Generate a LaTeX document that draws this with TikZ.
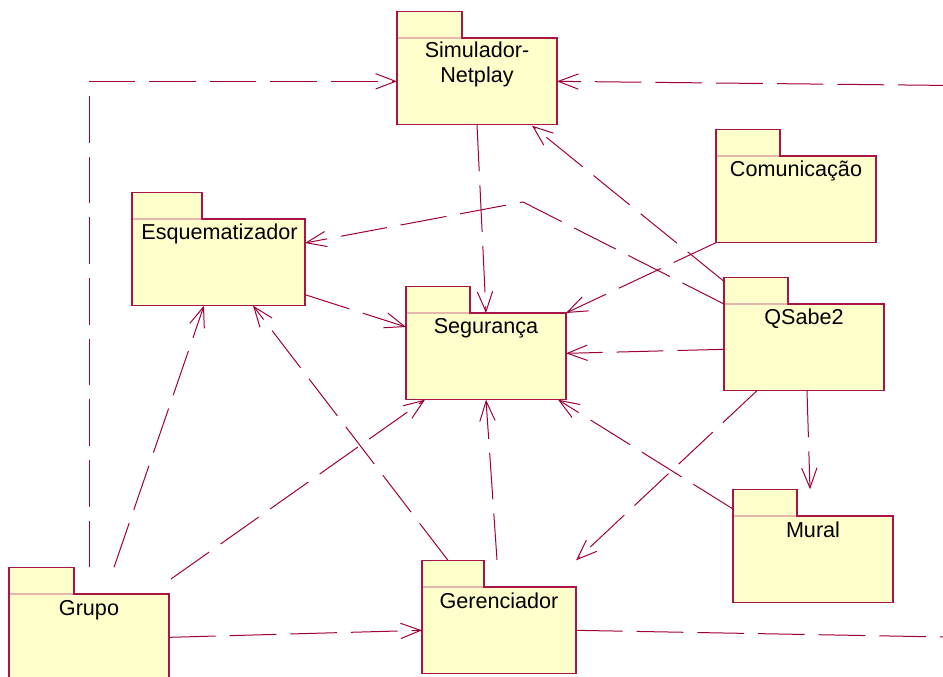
\documentclass[tikz,border=0pt]{standalone}
\usepackage{fontspec}
\setmainfont{Liberation Sans}
\usepackage{tikz}
\usetikzlibrary{arrows.meta}
\usetikzlibrary{calc}
\definecolor{pkgfill}{RGB}{255,255,204}
\definecolor{pkgedge}{RGB}{170,20,70}
\definecolor{tabedge}{RGB}{228,182,172}
\definecolor{deplink}{RGB}{160,0,55}
\tikzset{pkg/.style = {draw = pkgedge, fill = pkgfill, line width = 0.9pt, inner sep = 0, outer sep = 0, anchor = north west, minimum width = 120pt, minimum height = 65pt}}
\tikzset{pkgtab/.style = {draw = pkgedge, fill = pkgfill, line width = 0.9pt, inner sep = 0, outer sep = 0, anchor = south west, minimum width = 48pt, minimum height = 20pt}}
\tikzset{tabline/.style = {draw = tabedge, line width = 0.9pt, shorten <= 0.6pt, shorten >= 0.6pt}}
\tikzset{pkgtext/.style = {anchor = base, inner sep = 0, align = center, font = \fontsize{16.2}{18.75}\selectfont}}
\tikzset{dep/.style = {draw = deplink, line width = 0.75pt, dash pattern = on 35pt off 10.5pt, -{Straight Barb[length = 15pt, width = 11.5pt]}}}

\begin{document}
\begin{tikzpicture}[x = 0.75pt, y = -0.75pt]
            \useasboundingbox (0,0) rectangle (943,677);
            \clip (0,0) rectangle (943,677);

            \node [pkg] (sim) at (397,38) {};
            \node [pkgtab, minimum width = 48.75pt] (sim-tab) at (sim.north west) {};
            \draw [tabline] (sim-tab.south west) -- (sim-tab.south east);
            \node [pkgtext] (sim-text) at ($(sim.north)+(0,45)$) {Simulador-\\Netplay};

            \node [pkg, minimum width = 129.75pt] (esq) at (132,219) {};
            \node [pkgtab, minimum width = 52.5pt] (esq-tab) at (esq.north west) {};
            \draw [tabline] (esq-tab.south west) -- (esq-tab.south east);
            \node [pkgtext] (esq-text) at ($(esq.north)+(1,21)$) {Esquematizador};

            \node [pkg] (gru) at (9,594) {};
            \node [pkgtab, minimum width = 48.75pt] (gru-tab) at (gru.north west) {};
            \draw [tabline] (gru-tab.south west) -- (gru-tab.south east);
            \node [pkgtext] (gru-text) at ($(gru.north)+(0,21)$) {Grupo};

            \node [pkg] (seg) at (406,313) {};
            \node [pkgtab] (seg-tab) at (seg.north west) {};
            \draw [tabline] (seg-tab.south west) -- (seg-tab.south east);
            \node [pkgtext] (seg-text) at ($(seg.north)+(0,21)$) {Segurança};

            \node [pkg] (com) at (716,156) {};
            \node [pkgtab] (com-tab) at (com.north west) {};
            \draw [tabline] (com-tab.south west) -- (com-tab.south east);
            \node [pkgtext] (com-text) at ($(com.north)+(0,21)$) {Comunicação};

            \node [pkg] (qsa) at (724,304) {};
            \node [pkgtab] (qsa-tab) at (qsa.north west) {};
            \draw [tabline] (qsa-tab.south west) -- (qsa-tab.south east);
            \node [pkgtext] (qsa-text) at ($(qsa.north)+(0,21)$) {QSabe2};

            \node [pkg] (mur) at (733,516) {};
            \node [pkgtab] (mur-tab) at (mur.north west) {};
            \draw [tabline] (mur-tab.south west) -- (mur-tab.south east);
            \node [pkgtext] (mur-text) at ($(mur.north)+(0,21)$) {Mural};

            \node [pkg, minimum width = 115.5pt] (ger) at (422,587) {};
            \node [pkgtab, minimum width = 46.5pt] (ger-tab) at (ger.north west) {};
            \draw [tabline] (ger-tab.south west) -- (ger-tab.south east);
            \node [pkgtext] (ger-text) at ($(ger.north)+(0,21)$) {Gerenciador};

            \coordinate (bend) at (523,202);
            \coordinate (far-se) at (1000,638);
            \coordinate (far-ne) at (1000,86);

            \draw [dep] (gru.north |- gru-tab.north) |- (sim.west);
            \draw [dep] (ger.east) -- (far-se) -- (far-ne) -- (sim.east);
            \draw [dep] (sim.south) -- (seg.north);
            \draw [dep] ($(qsa-tab.north west)+(0,4)$) -- ($(sim.south east)+(-25,1)$);
            \draw [dep] (qsa.north west) -- (bend) -- ($(esq.north east)+(0,24)$);
            \draw [dep] (com.south west) -- (seg.north east);
            \draw [dep] ($(qsa.west)+(0,2)$) -- ($(seg.east)+(0,-3)$);
            \draw [dep] ($(qsa.south)+(3,0)$) -- ($(mur-tab.north west)+(77,0)$);
            \draw [dep] ($(qsa.south west)+(33,0)$) -- (ger.north east |- ger-tab.north);
            \draw [dep] ($(mur.north west)+(0,-7)$) -- ($(seg.south east)+(-8,0)$);
            \draw [dep] ($(esq.south east)+(0,-11)$) -- ($(seg.north west)+(0,14)$);
            \draw [dep] ($(gru-tab.north west)+(105,0)$) -- ($(esq.south west)+(72,0)$);
            \draw [dep] ($(ger-tab.north)+(-5,0)$) -- ($(esq.south west)+(121,0)$);
            \draw [dep] ($(gru.north east)+(2,-15)$) -- ($(seg.south west)+(19,0)$);
            \draw [dep] ($(ger.north)+(-2,-27)$) -- (seg.south);
            \draw [dep] (gru.east) -- (ger.west);

        \end{tikzpicture}
\end{document}
